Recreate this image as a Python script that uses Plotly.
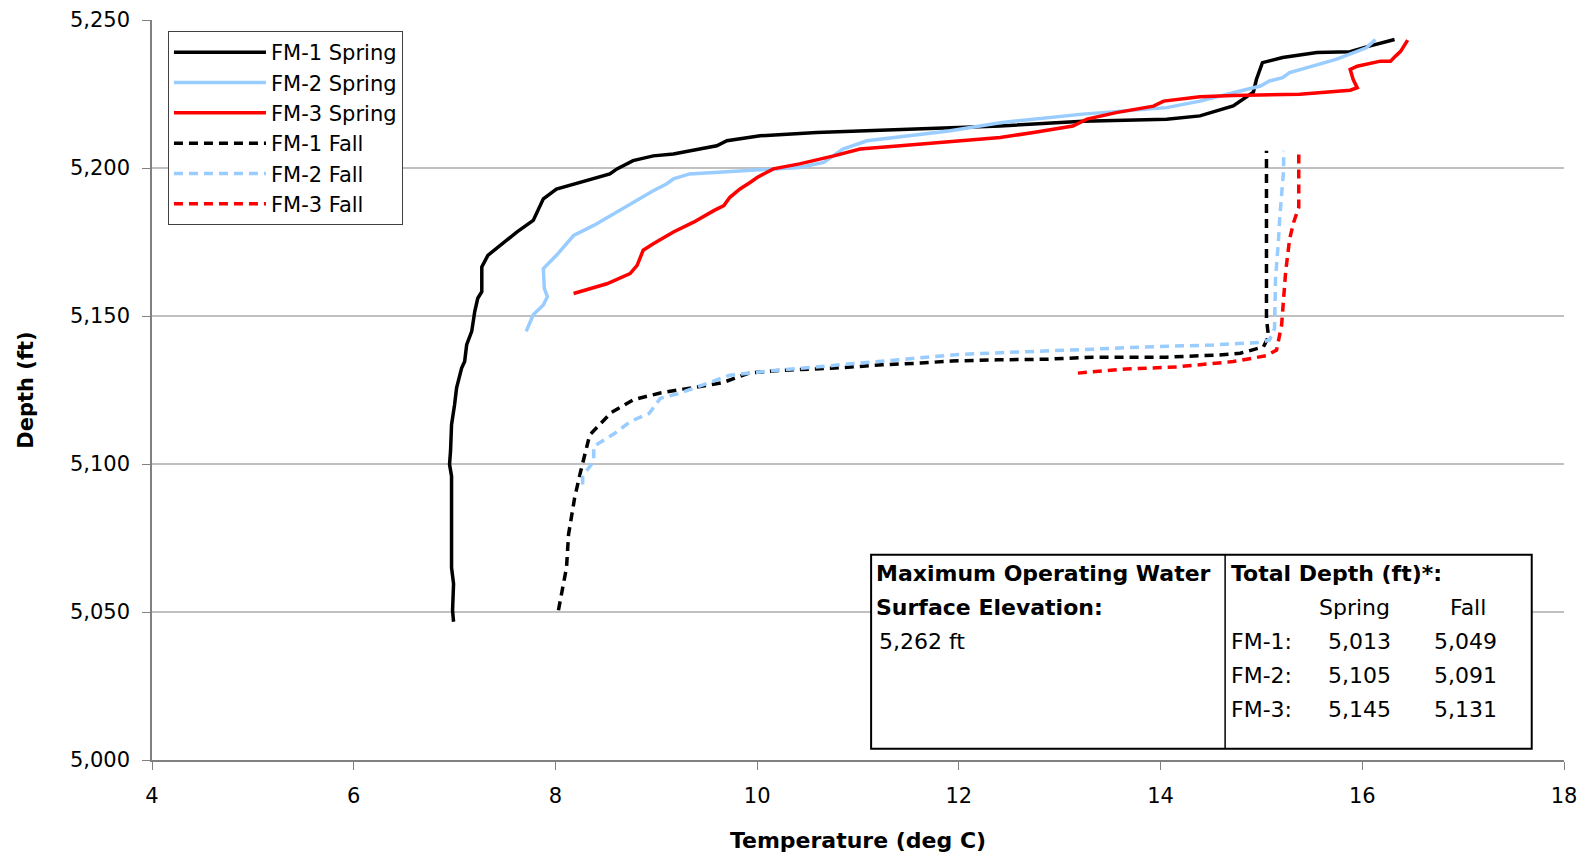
import plotly.graph_objects as go

# temperature (deg C) / depth (ft)
fm1_spring_t = [6.99, 6.98, 6.99, 6.97, 6.97, 6.95, 6.96, 6.97, 7.00, 7.02, 7.07, 7.10, 7.12, 7.17, 7.20, 7.23,
                7.27, 7.27, 7.33, 7.45, 7.62, 7.78, 7.82, 7.88, 8.01, 8.18, 8.34, 8.54, 8.61, 8.77, 8.97, 9.17,
                9.43, 9.60, 9.70, 10.03, 10.59, 11.42, 12.41, 13.23, 14.06, 14.39, 14.72, 14.92, 14.95, 15.01,
                15.21, 15.55, 15.88, 16.05, 16.32]
fm1_spring_d = [5046.7, 5050.5, 5059.5, 5065.0, 5095.9, 5099.9, 5104.4, 5113.3, 5120.0, 5125.7, 5132.4, 5134.6,
                5140.3, 5144.8, 5151.5, 5156.0, 5158.2, 5166.6, 5170.5, 5173.9, 5178.4, 5182.3, 5185.0, 5189.6,
                5192.9, 5194.6, 5196.3, 5198.0, 5199.7, 5202.5, 5204.1, 5204.7, 5206.4, 5207.5, 5209.2, 5210.9,
                5212.0, 5213.1, 5214.2, 5215.8, 5216.5, 5217.6, 5221.0, 5225.6, 5229.9, 5235.6, 5237.3, 5239.0,
                5239.3, 5241.0, 5243.4]

fm2_spring_t = [7.71, 7.78, 7.88, 7.92, 7.89, 7.88, 8.01, 8.11, 8.18, 8.38, 8.71, 8.97, 9.10, 9.17, 9.33, 9.60,
                10.10, 10.42, 10.66, 10.85, 11.09, 11.42, 11.90, 12.41, 13.23, 14.06, 14.39, 14.72, 14.99, 15.08,
                15.21, 15.28, 15.55, 15.74, 16.04, 16.13]
fm2_spring_d = [5144.8, 5150.4, 5153.7, 5156.5, 5159.3, 5166.0, 5170.5, 5174.4, 5177.2, 5180.6, 5187.3, 5192.3,
                5194.6, 5196.3, 5198.0, 5198.5, 5199.7, 5200.2, 5201.9, 5206.4, 5209.2, 5210.5, 5212.5, 5215.3,
                5218.2, 5220.4, 5222.6, 5225.4, 5227.7, 5229.4, 5230.5, 5232.2, 5235.0, 5236.7, 5240.6, 5243.4]

fm3_spring_t = [8.18, 8.51, 8.74, 8.81, 8.87, 8.97, 9.17, 9.37, 9.57, 9.67, 9.73, 9.83, 9.93, 10.00, 10.16, 10.42,
                10.76, 11.02, 11.42, 11.90, 12.41, 12.74, 13.13, 13.27, 13.56, 13.93, 14.03, 14.39, 14.72, 15.38,
                15.71, 15.88, 15.95, 15.91, 15.88, 15.95, 16.18, 16.28, 16.33, 16.38, 16.45]
fm3_spring_d = [5157.6, 5160.9, 5164.3, 5167.1, 5172.2, 5174.4, 5178.4, 5181.7, 5185.6, 5187.3, 5190.1, 5192.9,
                5195.1, 5196.8, 5199.7, 5201.4, 5204.1, 5206.4, 5207.5, 5209.0, 5210.3, 5212.0, 5214.2, 5216.5,
                5218.7, 5220.9, 5222.6, 5224.1, 5224.5, 5224.9, 5225.7, 5226.3, 5227.1, 5229.9, 5233.3, 5234.4,
                5236.1, 5236.1, 5237.8, 5239.4, 5243.2]

fm1_fall_t = [8.03, 8.11, 8.13, 8.19, 8.25, 8.31, 8.34, 8.55, 8.78, 9.04, 9.23, 9.65, 9.92, 10.18, 10.86, 11.24,
              11.62, 11.93, 12.38, 12.87, 13.33, 14.06, 14.56, 14.79, 15.02, 15.07, 15.05, 15.05]
fm1_fall_d = [5050.6, 5065.0, 5076.2, 5088.5, 5097.5, 5106.5, 5109.8, 5117.3, 5121.8, 5124.0, 5125.1, 5127.4,
              5130.7, 5131.5, 5132.6, 5133.5, 5134.1, 5134.8, 5135.2, 5135.4, 5136.1, 5136.1, 5136.8, 5137.4,
              5139.6, 5143.0, 5149.1, 5205.8]

fm2_fall_t = [8.27, 8.27, 8.38, 8.38, 8.59, 8.74, 8.93, 9.04, 9.23, 9.50, 9.73, 10.11, 10.49, 11.06, 11.44, 11.62,
              12.00, 12.41, 12.87, 13.33, 13.80, 14.52, 14.99, 15.08, 15.13, 15.14, 15.17, 15.18, 15.21, 15.22, 15.22]
fm2_fall_d = [5093.1, 5096.0, 5100.9, 5106.0, 5110.4, 5114.3, 5117.1, 5122.2, 5123.9, 5127.2, 5130.0, 5131.4,
              5132.5, 5134.0, 5135.1, 5135.9, 5137.0, 5137.6, 5138.1, 5138.8, 5139.5, 5140.2, 5141.1, 5141.9,
              5145.8, 5162.6, 5176.1, 5182.3, 5195.2, 5199.1, 5205.8]

fm3_fall_t = [13.18, 13.66, 14.16, 14.42, 14.72, 14.87, 15.05, 15.15, 15.20, 15.22, 15.24, 15.28, 15.32, 15.37, 15.37]
fm3_fall_d = [5130.7, 5132.1, 5132.8, 5133.5, 5134.6, 5135.5, 5136.6, 5138.5, 5146.9, 5155.9, 5164.9, 5176.1,
              5181.7, 5186.7, 5205.8]

series_names = ["FM-1 Spring", "FM-2 Spring", "FM-3 Spring", "FM-1 Fall", "FM-2 Fall", "FM-3 Fall"]
series_t = [fm1_spring_t, fm2_spring_t, fm3_spring_t, fm1_fall_t, fm2_fall_t, fm3_fall_t]
series_d = [fm1_spring_d, fm2_spring_d, fm3_spring_d, fm1_fall_d, fm2_fall_d, fm3_fall_d]
colors = ["#000000", "#99CCFF", "#FF0000", "#000000", "#99CCFF", "#FF0000"]
dashes = ["solid", "solid", "solid", "9px,6px", "9px,6px", "9px,6px"]

wells = ["FM-1:", "FM-2:", "FM-3:"]
td_spring = ["5,013", "5,105", "5,145"]
td_fall = ["5,049", "5,091", "5,131"]

FONT = "DejaVu Sans, Arial, sans-serif"

fig = go.Figure()
for name, t, d, c, ds in zip(series_names, series_t, series_d, colors, dashes):
    fig.add_trace(go.Scatter(x=t, y=d, name=name, mode="lines",
                             line=dict(color=c, width=3.5, dash=ds)))

# info box (data coordinates)
bx0, bx1, bdiv = 11.13, 17.68, 14.64
by0, by1 = 5003.8, 5069.3
fig.add_shape(type="rect", x0=bx0, x1=bx1, y0=by0, y1=by1, xref="x", yref="y",
              line=dict(color="black", width=2), fillcolor="white", layer="above")
fig.add_shape(type="line", x0=bdiv, x1=bdiv, y0=by0, y1=by1, xref="x", yref="y",
              line=dict(color="black", width=1.5))

row_y = [5062.9, 5051.4, 5040.0, 5028.6, 5017.2]
ann = []
def txt(x, y, s, bold=False, anchor="left"):
    ann.append(dict(x=x, y=y, xref="x", yref="y", text=f"<b>{s}</b>" if bold else s, showarrow=False,
                    xanchor=anchor, yanchor="middle", font=dict(family=FONT, size=22, color="black")))

txt(11.16, row_y[0], "Maximum Operating Water", True)
txt(11.16, row_y[1], "Surface Elevation:", True)
txt(11.19, row_y[2], "5,262 ft")
txt(14.68, row_y[0], "Total Depth (ft)*:", True)
txt(15.92, row_y[1], "Spring", anchor="center")
txt(17.05, row_y[1], "Fall", anchor="center")
for i in range(3):
    txt(14.68, row_y[2 + i], wells[i])
    txt(15.97, row_y[2 + i], td_spring[i], anchor="center")
    txt(17.02, row_y[2 + i], td_fall[i], anchor="center")

# page body has an 8px margin, so the figure is shifted by 8px
fig.update_layout(
    width=1569, height=845,
    margin=dict(l=144, r=13, t=12, b=93, autoexpand=False),
    paper_bgcolor="white", plot_bgcolor="white",
    font=dict(family=FONT, size=21, color="black"),
    annotations=ann,
    legend=dict(x=0.0113, y=0.985, xanchor="left", yanchor="top",
                bgcolor="white", bordercolor="#404040", borderwidth=1,
                font=dict(family=FONT, size=21), itemwidth=92, tracegroupgap=0),
    xaxis=dict(range=[4, 18], tickvals=[4, 6, 8, 10, 12, 14, 16, 18], showgrid=False,
               showline=True, linecolor="#808080", linewidth=1.5, ticks="outside", ticklen=8,
               tickcolor="#808080", ticklabelstandoff=8, zeroline=False, ticklabeloverflow="allow",
               tickfont=dict(family=FONT, size=21),
               title=dict(text="<b>Temperature (deg C)</b>", font=dict(size=22), standoff=30)),
    yaxis=dict(range=[5000, 5250], tickvals=[5000, 5050, 5100, 5150, 5200, 5250], tickformat=",",
               showgrid=True, gridcolor="#C0C0C0", gridwidth=1.5,
               showline=True, linecolor="#808080", linewidth=1.5, ticks="outside", ticklen=8,
               tickcolor="#808080", ticklabelstandoff=8, zeroline=False, ticklabeloverflow="allow",
               tickfont=dict(family=FONT, size=21),
               title=dict(text="<b>Depth (ft)</b>", font=dict(size=21), standoff=31)),
)

fig.write_html("out.html")
